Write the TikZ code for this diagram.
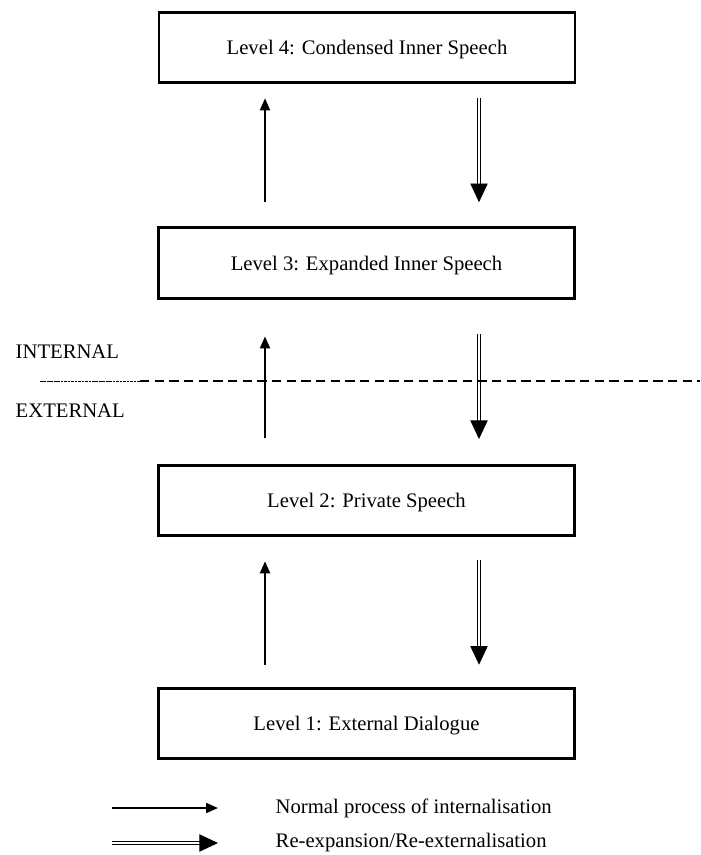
\documentclass[tikz,border=0pt]{standalone}
\usepackage{fontspec}
\setmainfont{Liberation Serif}
\usetikzlibrary{arrows.meta}

\begin{document}
\begin{tikzpicture}[x=0.75pt,y=-0.75pt]
\tikzstyle{every node}=[font=\fontsize{15.5}{18}\selectfont];
\tikzstyle{level}=[draw,line width=2.2pt,minimum width=312pt,minimum height=53pt,inner sep=0pt,text depth=0pt];
\tikzstyle{normal}=[line width=1.5pt,-{Triangle[length=9pt,width=7.5pt]}];
\tikzstyle{reexp}=[double,line width=0.7pt,double distance=1.6pt,-{Triangle[length=14pt,width=13pt]}];
\useasboundingbox (0,0) rectangle (700,855);
\node[level] (l4) at (367,47.5) {Level 4: Condensed Inner Speech};
\node[level] (l3) at (366.5,263) {Level 3: Expanded Inner Speech};
\node[level] (l2) at (366.5,500.5) {Level 2: Private Speech};
\node[level] (l1) at (366.5,723.5) {Level 1: External Dialogue};
\coordinate (up) at (265,0);
\coordinate (down) at (479,0);
\draw[normal,shorten <=18pt,shorten >=10.5pt] (l3.north -| up) -- (l4.south -| up);
\draw[reexp,shorten <=10.5pt,shorten >=18pt] (l4.south -| down) -- (l3.north -| down);
\draw[normal,shorten <=19pt,shorten >=27.5pt] (l2.north -| up) -- (l3.south -| up);
\draw[reexp,shorten <=26pt,shorten >=18.5pt] (l3.south -| down) -- (l2.north -| down);
\draw[normal,shorten <=16.5pt,shorten >=18pt] (l1.north -| up) -- (l2.south -| up);
\draw[reexp,shorten <=17pt,shorten >=16.5pt] (l2.south -| down) -- (l1.north -| down);
\node[anchor=west] (int) at (11,352) {INTERNAL};
\node[anchor=west] (ext) at (11,411) {EXTERNAL};
\coordinate (cutA) at (40,381);
\coordinate (cutB) at (140,381);
\coordinate (cutC) at (700,381);
\draw[line width=0.5pt,dash pattern=on 2pt off 0.6pt] (cutA) -- (cutB);
\draw[line width=1.1pt,dash pattern=on 7pt off 4pt] (cutB) -- (cutC);
\node[anchor=west] (normtxt) at (271,808) {Normal process of internalisation};
\node[anchor=west] (reextxt) at (271,843) {Re-expansion/Re-externalisation};
\coordinate (keyA) at (112,808);
\coordinate (keyB) at (112,843);
\draw[normal] (keyA) -- ++(106,0);
\draw[reexp] (keyB) -- ++(106,0);
\end{tikzpicture}
\end{document}
